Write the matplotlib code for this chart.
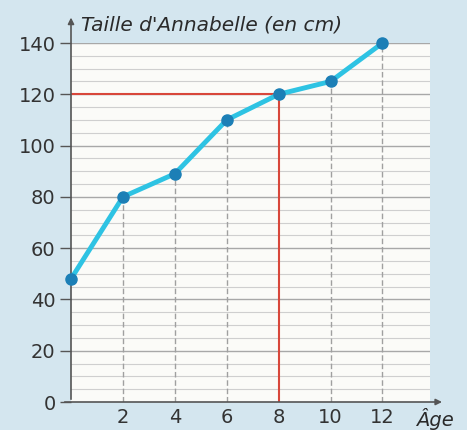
import numpy as np
from matplotlib import pyplot as plt

# data
ages = [0, 2, 4, 6, 8, 10, 12]
tailles = [48, 80, 89, 110, 120, 125, 140]
yticks = [0, 20, 40, 60, 80, 100, 120, 140]
xticks = [2, 4, 6, 8, 10, 12]

fig = plt.figure(figsize=(4.67, 4.30), dpi=100)
fig.patch.set_facecolor('#d4e6ef')
ax = fig.add_axes([71/467, 1 - 402/430, 359/467, 359/430])
ax.set_facecolor('#fbfbf8')
ax.set_xlim(0, 13.83)
ax.set_ylim(0, 140)

# horizontal grid
for y in np.arange(5, 141, 5):
    if y % 20 == 0:
        ax.axhline(y, color='#a8a8a8', lw=1.0, zorder=1)
    else:
        ax.axhline(y, color='#cfcfcf', lw=0.8, zorder=1)

# dashed verticals from the points
for a, t in zip(ages, tailles):
    if a in xticks and a != 8:
        ax.plot([a, a], [0, t], color='#a0a0a0', lw=1.0, ls=(0, (4, 2)), zorder=2)

# red reading lines
ax.plot([0, 8], [120, 120], color='#d8473b', lw=1.5, zorder=3)
ax.plot([8, 8], [0, 120], color='#d8473b', lw=1.5, zorder=3)

ax.plot(ages, tailles, color='#2ec3e3', lw=3.5, zorder=4, clip_on=False,
        marker='o', markersize=8, markerfacecolor='#1c7fb6', markeredgecolor='#1c7fb6')

for s in ax.spines.values():
    s.set_visible(False)

# axes with arrows
ax.annotate('', xy=(0, 151), xytext=(0, 0), annotation_clip=False,
            arrowprops=dict(arrowstyle='-|>', color='#555555', lw=1.2, mutation_scale=9))
ax.annotate('', xy=(14.4, 0), xytext=(-0.35, 0), annotation_clip=False,
            arrowprops=dict(arrowstyle='-|>', color='#555555', lw=1.2, mutation_scale=9))

ax.set_yticks(yticks)
ax.set_xticks(xticks)
ax.tick_params(axis='y', length=8, width=1.0, color='#555555', pad=3, labelsize=14, labelcolor='#333333')
ax.tick_params(axis='x', length=0, pad=4, labelsize=14, labelcolor='#333333')

ax.text(0.4, 147, "Taille d'Annabelle (en cm)", fontsize=14.5, style='italic',
        color='#2a2a2a', va='center', ha='left')
ax.text(14.0, -6.5, "Âge", fontsize=14, style='italic', color='#2a2a2a',
        va='center', ha='center')

fig.savefig('out.png', dpi=100, facecolor=fig.get_facecolor())
